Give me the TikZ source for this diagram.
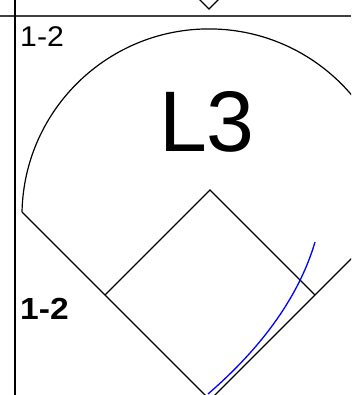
\documentclass[tikz,border=0pt]{standalone}
\usepackage{fontspec}
\setmainfont{Liberation Sans}
\usetikzlibrary{calc}
\tikzset{
  field line/.style={line width=1.2pt},
  hit path/.style={blue, line width=1.3pt},
  score/.style={anchor=base west, inner sep=0pt, font=\fontsize{28.5}{28.5}\selectfont}
}

\begin{document}
\begin{tikzpicture}[x=1pt, y=-1pt]
\useasboundingbox (0,0) rectangle (351,395);
\clip (0,0) rectangle (351,395);
% grid lines
\draw [line width=2pt, black!75] (0,16.5) -- (351,16.5);
\draw [line width=1.5pt] (15,0) -- (15,395);
% field above
\draw [field line] (197,-3) -- (209,9) -- (221,-3);
% the field
\coordinate (home) at (210,400);
\coordinate (first) at (315,295);
\coordinate (second) at (210,190);
\coordinate (third) at (105,295);
\coordinate (leftpole) at (22,212);
\coordinate (rightpole) at (404,206);
\draw [field line] (leftpole) arc [start angle=181.2, end angle=358.8, radius=187];
\draw [field line] (leftpole) -- (home) -- (rightpole);
\draw [field line] (third) -- (second) -- (first);
% the hit
\coordinate (hitstart) at (208,394);
\coordinate (hitend) at (315,242);
\draw [hit path] (hitstart) .. controls (245,362) and (295,310) .. (hitend);
% labels
\node (lineup) [anchor=base, inner sep=0pt, font=\fontsize{86}{86}\selectfont] at (207,152) {L3};
\node (scoretop) [score, xscale=1.06] at (20,46.5) {1-2};
\node (scorebottom) [score, xscale=1.1, font=\fontsize{30.5}{30.5}\selectfont\bfseries] at (20,319) {1-2};
\end{tikzpicture}
\end{document}
